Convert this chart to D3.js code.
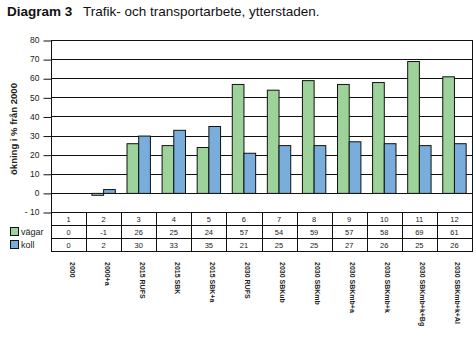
<!DOCTYPE html>
<html>
<head>
<meta charset="utf-8">
<script src="https://cdn.jsdelivr.net/npm/d3@7"></script>
<style>
  body { margin: 0; background: #fff; }
  svg { font-family: "Liberation Sans", Arial, sans-serif; }
</style>
</head>
<body>
<div id="chart"></div>
<script>
// Chart data
const numbers = ["1", "2", "3", "4", "5", "6", "7", "8", "9", "10", "11", "12"];
const scenarios = ["2000", "2000+a", "2015 RUFS", "2015 SBK", "2015 SBK+a", "2030 RUFS",
  "2030 SBKub", "2030 SBKmb", "2030 SBKmb+a", "2030 SBKmb+k", "2030 SBKmb+k+Bg", "2030 SBKmb+k+Al"];
const vagar = [0, -1, 26, 25, 24, 57, 54, 59, 57, 58, 69, 61];
const koll = [0, 2, 30, 33, 35, 21, 25, 25, 27, 26, 25, 26];
const seriesNames = ["vägar", "koll"];
const yTicks = [-10, 0, 10, 20, 30, 40, 50, 60, 70, 80];

const width = 476, height = 339;
const marginLeft = 51, marginRight = 4, plotTop = 40, plotBottom = 212;
const rowH = 13;
const colors = ["#9dd39a", "#79aedc"];

const svg = d3.select("#chart")
  .append("svg")
  .attr("width", width)
  .attr("height", height)
  .attr("viewBox", [0, 0, width, height]);

// Title
const title = svg.append("text").attr("x", 7).attr("y", 16).attr("font-size", 13.5).attr("fill", "#111");
title.append("tspan").attr("font-weight", "bold").text("Diagram 3");
title.append("tspan").attr("x", 83).text("Trafik- och transportarbete, ytterstaden.");

// Scales
const x = d3.scaleBand().domain(numbers).range([marginLeft, width - marginRight]);
const xSub = d3.scaleBand().domain(seriesNames).range([0, x.bandwidth()]).paddingOuter(0.5).paddingInner(0);
const y = d3.scaleLinear().domain([-10, 80]).range([plotBottom, plotTop]);

// Grid lines
svg.append("g")
  .selectAll("line")
  .data(yTicks)
  .join("line")
  .attr("x1", marginLeft)
  .attr("x2", width - marginRight)
  .attr("y1", (d) => Math.round(y(d)) + 0.5)
  .attr("y2", (d) => Math.round(y(d)) + 0.5)
  .attr("stroke", "#111");

// Y axis
const yAxis = d3.axisLeft(y).tickValues(yTicks).tickSize(8).tickPadding(4).tickFormat((d) => d < 0 ? "- " + (-d) : d);
svg.append("g")
  .attr("transform", `translate(${marginLeft + 0.5},0)`)
  .call(yAxis)
  .call((g) => g.select(".domain").remove())
  .call((g) => g.selectAll(".tick line").attr("stroke", "#111").attr("transform", "translate(0,0.5)"))
  .call((g) => g.selectAll(".tick text").attr("font-size", 8.5).attr("fill", "#222").attr("font-family", "Liberation Sans, Arial, sans-serif"));

svg.append("text")
  .attr("transform", `translate(17,129) rotate(-90)`)
  .attr("text-anchor", "middle")
  .attr("font-size", 9.5)
  .attr("font-weight", "bold")
  .attr("fill", "#222")
  .text("ökning i % från 2000");

// Bars
const series = [vagar, koll];
svg.append("g")
  .selectAll("g")
  .data(series)
  .join("g")
  .attr("fill", (d, i) => colors[i])
  .selectAll("rect")
  .data((d, si) => d.map((v, i) => ({ v, i, si })))
  .join("rect")
  .filter((d) => d.v !== 0)
  .attr("x", (d) => x(numbers[d.i]) + xSub(seriesNames[d.si]))
  .attr("width", xSub.bandwidth())
  .attr("y", (d) => Math.min(y(d.v), y(0)) + 0.5)
  .attr("height", (d) => Math.abs(y(d.v) - y(0)))
  .attr("stroke", "#111")
  .attr("stroke-width", 1);

// Outer frame of plot
svg.append("line")
  .attr("x1", marginLeft + 0.5).attr("x2", marginLeft + 0.5)
  .attr("y1", plotTop).attr("y2", plotBottom + 3 * rowH + 0.5)
  .attr("stroke", "#111");
svg.append("line")
  .attr("x1", width - marginRight + 0.5).attr("x2", width - marginRight + 0.5)
  .attr("y1", plotTop).attr("y2", plotBottom + 3 * rowH + 0.5)
  .attr("stroke", "#111");

// Data table
const table = svg.append("g").attr("font-size", 7.5).attr("fill", "#222").attr("text-anchor", "middle");
[1, 2, 3].forEach((r) => {
  table.append("line")
    .attr("x1", marginLeft).attr("x2", width - marginRight + 1)
    .attr("y1", Math.round(plotBottom + r * rowH) + 0.5).attr("y2", Math.round(plotBottom + r * rowH) + 0.5)
    .attr("stroke", "#111");
});
table.selectAll("line.col")
  .data(numbers.slice(1))
  .join("line")
  .attr("class", "col")
  .attr("x1", (d) => Math.round(x(d)) + 0.5).attr("x2", (d) => Math.round(x(d)) + 0.5)
  .attr("y1", plotBottom).attr("y2", plotBottom + 3 * rowH)
  .attr("stroke", "#111");

const rows = [numbers, vagar, koll];
rows.forEach((row, r) => {
  table.append("g")
    .selectAll("text")
    .data(row)
    .join("text")
    .attr("x", (d, i) => x(numbers[i]) + x.bandwidth() / 2)
    .attr("y", plotBottom + r * rowH + 10)
    .text((d) => d);
});

// Legend in table
seriesNames.forEach((name, i) => {
  const yy = plotBottom + (i + 1) * rowH;
  svg.append("rect")
    .attr("x", 10.5).attr("y", yy + 2.5)
    .attr("width", 8).attr("height", 8)
    .attr("fill", colors[i]).attr("stroke", "#111");
  svg.append("text")
    .attr("x", 21).attr("y", yy + 10)
    .attr("font-size", 9).attr("fill", "#222")
    .text(name);
});

// Category labels
svg.append("g")
  .selectAll("text")
  .data(scenarios)
  .join("text")
  .attr("transform", (d, i) => `translate(${x(numbers[i]) + x.bandwidth() / 2 + 1},262) rotate(90)`)
  .attr("font-size", 7)
  .attr("font-weight", "bold")
  .attr("fill", "#222")
  .text((d) => d);
</script>
</body>
</html>
